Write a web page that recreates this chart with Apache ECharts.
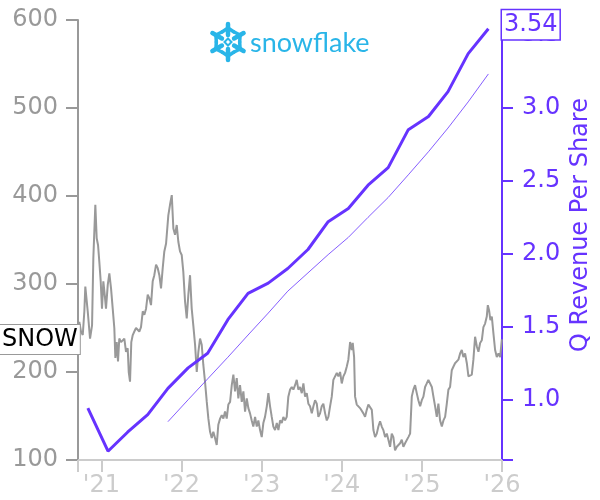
<!DOCTYPE html>
<html><head><meta charset="utf-8">
<script src="https://cdn.jsdelivr.net/npm/echarts@6/dist/echarts.min.js"></script>
<style>html,body{margin:0;padding:0;background:#fff}#c{width:600px;height:500px}</style>
</head><body><div id="c"></div>
<script>
// ---- data ----
const yearTicks = [2021, 2022, 2023, 2024, 2025, 2026];
const xStart = '2020-09-16';
const xEnd = '2026-01-01';
const priceTicks = [100, 200, 300, 400, 500, 600];
const revTicks = [1.0, 1.5, 2.0, 2.5, 3.0, 3.5];
const revAxisMin = 0.59, revAxisMax = 3.6;
const quarterDates = ['2020-10-31','2021-01-31','2021-04-30','2021-07-31','2021-10-31','2022-01-31','2022-04-30','2022-07-31','2022-10-31','2023-01-31','2023-04-30','2023-07-31','2023-10-31','2024-01-31','2024-04-30','2024-07-31','2024-10-31','2025-01-31','2025-04-30','2025-07-31','2025-10-31'];
const qRevPerShare = [0.945,0.65,0.78,0.90,1.08,1.22,1.32,1.55,1.73,1.80,1.90,2.03,2.22,2.31,2.47,2.59,2.85,2.94,3.11,3.37,3.54];
const avgRevPerShare = [null,null,null,null,0.852,1.002,1.145,1.293,1.445,1.595,1.745,1.870,1.995,2.113,2.250,2.386,2.541,2.699,2.861,3.040,3.231];
// price: [decimal year, close]
const priceData = [
[2020.704,234],[2020.724,257],[2020.745,246],[2020.767,242],[2020.787,269],[2020.799,297],[2020.829,269],[2020.858,238],[2020.883,253],[2020.899,329],
[2020.924,390],[2020.941,352],[2020.958,344],[2020.974,325],[2020.991,303],[2021.007,272],[2021.024,303],[2021.041,288],[2021.057,272],[2021.079,299],
[2021.099,312],[2021.120,295],[2021.141,272],[2021.161,250],[2021.174,216],[2021.191,234],[2021.207,212],[2021.223,238],[2021.245,234],[2021.266,234],
[2021.286,238],[2021.307,223],[2021.328,227],[2021.341,200],[2021.357,189],[2021.373,234],[2021.391,242],[2021.411,246],[2021.432,250],[2021.453,250],
[2021.473,246],[2021.494,251],[2021.516,269],[2021.536,265],[2021.557,272],[2021.578,288],[2021.598,284],[2021.619,276],[2021.640,303],[2021.660,310],
[2021.682,322],[2021.703,318],[2021.723,310],[2021.744,295],[2021.765,318],[2021.785,337],[2021.807,346],[2021.835,378],[2021.856,390],[2021.878,401],
[2021.898,363],[2021.919,356],[2021.940,367],[2021.960,348],[2021.981,337],[2022.002,333],[2022.022,314],[2022.044,280],[2022.065,261],[2022.085,288],
[2022.106,310],[2022.127,272],[2022.147,253],[2022.169,231],[2022.190,200],[2022.210,223],[2022.231,238],[2022.252,231],[2022.272,208],[2022.293,189],
[2022.315,166],[2022.335,147],[2022.356,132],[2022.377,125],[2022.397,132],[2022.418,125],[2022.439,117],[2022.459,140],[2022.481,147],[2022.502,151],
[2022.522,147],[2022.543,155],[2022.564,147],[2022.584,163],[2022.606,166],[2022.627,185],[2022.647,197],[2022.668,178],[2022.689,193],[2022.709,170],
[2022.730,185],[2022.752,166],[2022.772,178],[2022.793,155],[2022.814,170],[2022.834,159],[2022.855,153],[2022.876,145],[2022.896,138],[2022.918,149],
[2022.939,138],[2022.959,145],[2022.980,134],[2023.001,126],[2023.021,142],[2023.042,149],[2023.064,161],[2023.084,176],[2023.105,161],[2023.126,149],
[2023.146,138],[2023.167,134],[2023.189,142],[2023.209,134],[2023.230,145],[2023.251,142],[2023.271,149],[2023.292,145],[2023.313,149],[2023.333,172],
[2023.355,180],[2023.376,183],[2023.396,180],[2023.417,185],[2023.438,191],[2023.458,180],[2023.479,183],[2023.501,176],[2023.521,187],[2023.542,172],
[2023.563,176],[2023.583,164],[2023.604,161],[2023.626,153],[2023.646,161],[2023.667,168],[2023.688,164],[2023.708,149],[2023.729,153],[2023.750,161],
[2023.770,164],[2023.792,153],[2023.813,145],[2023.833,149],[2023.854,161],[2023.875,172],[2023.895,191],[2023.916,191],[2023.938,199],[2023.958,195],
[2023.979,200],[2024.000,187],[2024.020,195],[2024.041,199],[2024.062,206],[2024.082,214],[2024.104,234],[2024.125,225],[2024.137,233],[2024.154,217],
[2024.166,172],[2024.187,163],[2024.207,161],[2024.228,159],[2024.250,157],[2024.270,153],[2024.291,149],[2024.312,157],[2024.332,163],[2024.353,164],
[2024.375,157],[2024.395,134],[2024.416,126],[2024.437,130],[2024.457,138],[2024.478,144],[2024.499,138],[2024.519,134],[2024.541,126],[2024.562,130],
[2024.582,123],[2024.603,115],[2024.624,130],[2024.644,126],[2024.665,111],[2024.687,115],[2024.707,113],[2024.728,119],[2024.749,123],[2024.769,115],
[2024.790,119],[2024.811,119],[2024.831,126],[2024.853,130],[2024.874,172],[2024.894,180],[2024.915,185],[2024.936,176],[2024.956,168],[2024.978,161],
[2024.999,168],[2025.019,172],[2025.040,183],[2025.061,187],[2025.081,191],[2025.102,191],[2025.124,183],[2025.144,172],[2025.165,161],[2025.186,149],
[2025.206,164],[2025.227,145],[2025.249,138],[2025.269,145],[2025.290,149],[2025.311,164],[2025.331,180],[2025.352,183],[2025.373,202],[2025.393,206],
[2025.414,210],[2025.436,212],[2025.456,214],[2025.477,221],[2025.498,225],[2025.518,217],[2025.539,221],[2025.561,210],[2025.581,195],[2025.602,193],
[2025.623,197],[2025.643,214],[2025.664,240],[2025.686,229],[2025.706,223],[2025.727,233],[2025.748,236],[2025.768,251],[2025.789,255],[2025.810,263],
[2025.823,276],[2025.839,270],[2025.855,259],[2025.873,263],[2025.893,244],[2025.914,225],[2025.935,217],[2025.956,221],[2025.977,217],[2025.998,237]
];
const ticker = 'SNOW';
const revAxisName = 'Q Revenue Per Share';
const brandName = 'snowflake';

// ---- helpers ----
function toYear(s) {
  const [y, m, d] = s.split('-').map(Number);
  const start = Date.UTC(y, 0, 1), end = Date.UTC(y + 1, 0, 1);
  return y + (Date.UTC(y, m - 1, d) - start) / (end - start);
}
const xMin = toYear(xStart), xMax = toYear(xEnd);
const qData = quarterDates.map((d, i) => [toYear(d), qRevPerShare[i]]);
const avgData = quarterDates.map((d, i) => [toYear(d), avgRevPerShare[i]]).filter(p => p[1] !== null);

const FONT = 'DejaVu Sans';
const FS = 24;
const PURPLE = '#6633ff';
const GRAY = '#999999';
const LIGHT = '#cccccc';
const CYAN = '#29b5e8';

const option = {
  animation: false,
  backgroundColor: '#fff',
  grid: { left: 78, right: 98, top: 20, bottom: 40, containLabel: false },
  xAxis: {
    type: 'value', min: xMin, max: xMax,
    splitLine: { show: false },
    axisLine: { show: true, lineStyle: { color: LIGHT, width: 2 } },
    axisTick: { show: true, length: 12, lineStyle: { color: LIGHT, width: 2 }, customValues: [xMin].concat(yearTicks) },
    axisLabel: { customValues: yearTicks, color: LIGHT, fontFamily: FONT, fontSize: FS, margin: 14,
      formatter: v => "'" + String(Math.round(v) % 100).padStart(2, '0') }
  },
  yAxis: [
    {
      type: 'value', min: priceTicks[0], max: priceTicks[priceTicks.length - 1], interval: 100, position: 'left',
      splitLine: { show: false },
      axisLine: { show: true, lineStyle: { color: GRAY, width: 2 } },
      axisTick: { show: true, length: 12, lineStyle: { color: GRAY, width: 2 } },
      axisLabel: { color: GRAY, fontFamily: FONT, fontSize: FS, margin: 20 }
    },
    {
      type: 'value', min: revAxisMin, max: revAxisMax, position: 'right',
      splitLine: { show: false },
      axisLine: { show: true, lineStyle: { color: PURPLE, width: 2 } },
      axisTick: { show: true, length: 11, lineStyle: { color: PURPLE, width: 2 }, customValues: [revAxisMin].concat(revTicks) },
      axisLabel: { customValues: revTicks, color: PURPLE, fontFamily: FONT, fontSize: FS, margin: 20,
        formatter: v => v.toFixed(1) }
    }
  ],
  series: [
    { type: 'line', name: 'price', data: priceData, xAxisIndex: 0, yAxisIndex: 0, showSymbol: false,
      lineStyle: { color: GRAY, width: 2 }, z: 1, silent: true },
    { type: 'line', name: 'avg', data: avgData, xAxisIndex: 0, yAxisIndex: 1, showSymbol: false,
      lineStyle: { color: PURPLE, width: 0.8 }, z: 2, silent: true },
    { type: 'line', name: 'q', data: qData, xAxisIndex: 0, yAxisIndex: 1, showSymbol: false,
      lineStyle: { color: PURPLE, width: 3 }, z: 3, silent: true }
  ]
};

const chart = echarts.init(document.getElementById('c'), null, { renderer: 'canvas' });
chart.setOption(option);

const lastPrice = priceData[priceData.length - 1][1];
const lastRev = qRevPerShare[qRevPerShare.length - 1];
const ySnow = chart.convertToPixel({ yAxisIndex: 0 }, lastPrice);
const yRev = chart.convertToPixel({ yAxisIndex: 1 }, lastRev);
const xRight = chart.convertToPixel({ xAxisIndex: 0 }, xMax);

// snowflake icon arms
const cx = 228, cy = 42;
const arms = [];
for (let k = 0; k < 6; k++) {
  const a = (k * 60 + 30) * Math.PI / 180;
  const ux = Math.cos(a), uy = Math.sin(a);
  const px = -uy, py = ux;
  arms.push({ type: 'line', shape: { x1: cx + ux * 7, y1: cy + uy * 7, x2: cx + ux * 18, y2: cy + uy * 18 },
    style: { stroke: CYAN, lineWidth: 4.5, lineCap: 'round' } });
  arms.push({ type: 'polyline', shape: { points: [[cx + ux * 10 + px * 6, cy + uy * 10 + py * 6], [cx + ux * 14, cy + uy * 14], [cx + ux * 10 - px * 6, cy + uy * 10 - py * 6]] },
    style: { stroke: CYAN, fill: null, lineWidth: 3.5, lineCap: 'round', lineJoin: 'round' } });
}
arms.push({ type: 'polygon', shape: { points: [[cx, cy - 3.5], [cx + 3.5, cy], [cx, cy + 3.5], [cx - 3.5, cy]] },
  style: { stroke: CYAN, fill: null, lineWidth: 2 } });

chart.setOption({
  graphic: [
    { type: 'group', children: arms },
    { type: 'text', x: 250, y: 43, z: 10,
      style: { text: brandName, font: '27px Lato', fill: CYAN, verticalAlign: 'middle', align: 'left' } },
    { type: 'text', x: 0, y: ySnow, z: 10,
      style: { text: ticker, font: FS + 'px "DejaVu Sans"', fill: '#000', verticalAlign: 'middle', align: 'left',
        backgroundColor: '#fff', borderColor: GRAY, borderWidth: 1, padding: [3, 2, 2, 2] } },
    { type: 'text', x: xRight, y: yRev - 4, z: 10,
      style: { text: lastRev.toFixed(2), font: FS + 'px "DejaVu Sans"', fill: PURPLE, verticalAlign: 'middle', align: 'left',
        backgroundColor: '#fff', borderColor: PURPLE, borderWidth: 1.5, padding: [3, 2, 2, 2] } },
    { type: 'text', x: 581, y: 225, rotation: Math.PI / 2, z: 10,
      style: { text: revAxisName, font: FS + 'px "DejaVu Sans"', fill: PURPLE, verticalAlign: 'middle', align: 'center' } }
  ]
});
</script></body></html>
